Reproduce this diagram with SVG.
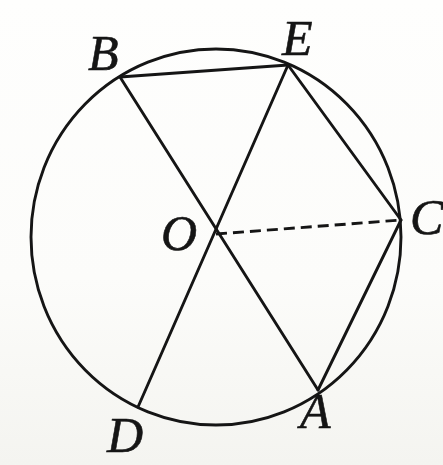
<svg xmlns="http://www.w3.org/2000/svg" width="443" height="465" viewBox="0 0 443 465">
<style>
.ln{stroke:#151515;stroke-width:2.9;fill:none;stroke-linecap:round}
.dash{stroke:#151515;stroke-width:2.9;fill:none;stroke-dasharray:11 6}
.lb{font-family:"Liberation Serif",serif;font-style:italic;font-size:50px;fill:#151515;stroke:#151515;stroke-width:0.6}
</style>
<defs>
<linearGradient id="bg" x1="0" y1="0" x2="0" y2="1">
<stop offset="0" stop-color="#fefefd"/>
<stop offset="0.6" stop-color="#fcfcfa"/>
<stop offset="1" stop-color="#f4f4f0"/>
</linearGradient>
</defs>
<rect width="443" height="465" fill="url(#bg)"/>
<g id="circle"><ellipse class="ln" cx="216" cy="237" rx="185" ry="188"/></g>
<g id="connectors">
<line class="ln" x1="120" y1="77" x2="288" y2="65"/>
<line class="ln" x1="120" y1="77" x2="318" y2="390"/>
<line class="ln" x1="288" y1="65" x2="138" y2="407"/>
<line class="ln" x1="288" y1="65" x2="401" y2="220"/>
<line class="ln" x1="401" y1="220" x2="318" y2="390"/>
<line class="dash" x1="216" y1="234" x2="401" y2="220"/>
</g>
<g id="B"><text class="lb" x="88" y="70">B</text></g>
<g id="E"><text class="lb" x="282" y="55">E</text></g>
<g id="O"><text class="lb" x="161" y="250">O</text></g>
<g id="C"><text class="lb" x="410" y="234">C</text></g>
<g id="A"><text class="lb" x="300" y="428">A</text></g>
<g id="D"><text class="lb" x="107" y="452">D</text></g>
</svg>
